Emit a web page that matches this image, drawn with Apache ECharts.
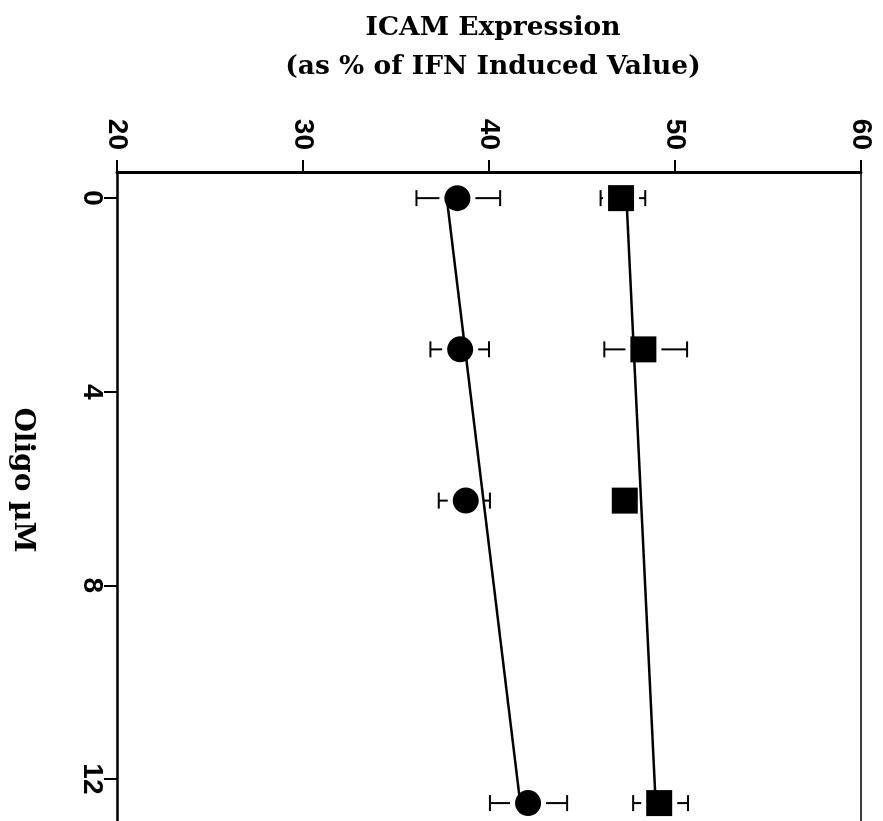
<!DOCTYPE html>
<html>
<head>
<meta charset="utf-8">
<script src="https://cdn.jsdelivr.net/npm/echarts@6/dist/echarts.min.js"></script>
<style>
html,body{margin:0;padding:0;background:#fff;}
#chart{width:883px;height:821px;}
</style>
</head>
<body>
<div id="chart"></div>
<script>
// ---- data ----
const oligo = [0, 3.125, 6.25, 12.5];
const circleVal  = [38.3, 38.45, 38.75, 42.1];
const circleLow  = [36.1, 36.85, 37.3, 40.05];
const circleHigh = [40.6, 40.0, 40.05, 44.2];
const squareVal  = [47.1, 48.3, 47.3, 49.15];
const squareLow  = [46.0, 46.2, 47.3, 47.75];
const squareHigh = [48.4, 50.65, 47.3, 50.7];
// fitted lines (end values)
const fitOligo  = [0, 12.5];
const fitCircle = [37.73, 41.68];
const fitSquare = [47.39, 48.96];
const xTicks = [20, 30, 40, 50, 60];
const yTicks = [0, 4, 8, 12];
const titleLines = ['ICAM Expression', '(as % of IFN Induced Value)'];
const yName = 'Oligo µM';

const chart = echarts.init(document.getElementById('chart'), null, {renderer: 'canvas'});

const MARK = 26;
function errRender(params, api) {
  const y = api.value(0), lo = api.value(1), hi = api.value(2), c = api.value(3);
  const pl = api.coord([lo, y]), ph = api.coord([hi, y]), pc = api.coord([c, y]);
  const edge = MARK / 2 + 5, cap = 8;
  const st = {stroke: '#000', lineWidth: 2};
  const ch = [];
  if (pl[0] < pc[0] - MARK / 2) {
    ch.push({type: 'line', shape: {x1: pl[0], y1: pl[1], x2: Math.max(pl[0], pc[0] - edge), y2: pl[1]}, style: st});
    ch.push({type: 'line', shape: {x1: pl[0], y1: pl[1] - cap, x2: pl[0], y2: pl[1] + cap}, style: st});
  }
  if (ph[0] > pc[0] + MARK / 2) {
    ch.push({type: 'line', shape: {x1: Math.min(ph[0], pc[0] + edge), y1: ph[1], x2: ph[0], y2: ph[1]}, style: st});
    ch.push({type: 'line', shape: {x1: ph[0], y1: ph[1] - cap, x2: ph[0], y2: ph[1] + cap}, style: st});
  }
  return {type: 'group', children: ch};
}

const labelFont = {fontFamily: 'Liberation Sans', fontWeight: 'bold', fontSize: 28, color: '#000'};
const Y_MIN = -0.54, Y_MAX = 12.87;

const option = {
  backgroundColor: '#fff',
  animation: false,
  graphic: [
    {type: 'text', x: 493, y: 28, style: {text: titleLines[0], font: 'bold 26.5px "DejaVu Serif"', fill: '#000', align: 'center', verticalAlign: 'middle'}},
    {type: 'text', x: 493, y: 67, style: {text: titleLines[1], font: 'bold 26.5px "DejaVu Serif"', fill: '#000', align: 'center', verticalAlign: 'middle'}},
    {type: 'text', x: 22, y: 480, rotation: -Math.PI / 2, style: {text: yName, font: 'bold 28px "DejaVu Serif"', fill: '#000', align: 'center', verticalAlign: 'middle'}}
  ],
  grid: {left: 117, right: 22, top: 172, bottom: 0, containLabel: false},
  xAxis: {
    type: 'value', position: 'top', min: xTicks[0], max: xTicks[xTicks.length - 1], interval: 10,
    axisLine: {show: true, onZero: false, lineStyle: {color: '#000', width: 3}},
    axisTick: {show: true, inside: false, length: 12, lineStyle: {color: '#000', width: 2}},
    axisLabel: Object.assign({rotate: 90, margin: 22}, labelFont),
    splitLine: {show: false}
  },
  yAxis: [{
    type: 'value', inverse: true, min: Y_MIN, max: Y_MAX, position: 'left',
    axisLine: {show: true, onZero: false, lineStyle: {color: '#000', width: 2.5}},
    axisTick: {show: true, length: 13, customValues: yTicks, lineStyle: {color: '#000', width: 2}},
    axisLabel: Object.assign({rotate: -90, margin: 11, customValues: yTicks}, labelFont),
    splitLine: {show: false}
  }, {
    type: 'value', inverse: true, min: Y_MIN, max: Y_MAX, position: 'right',
    axisLine: {show: true, onZero: false, lineStyle: {color: '#000', width: 1.5}},
    axisTick: {show: false}, axisLabel: {show: false}, splitLine: {show: false}
  }],
  series: [
    {type: 'line', data: fitOligo.map((o, i) => [fitCircle[i], o]), symbol: 'none', lineStyle: {color: '#000', width: 2.5}, z: 2},
    {type: 'line', data: fitOligo.map((o, i) => [fitSquare[i], o]), symbol: 'none', lineStyle: {color: '#000', width: 2.5}, z: 2},
    {type: 'custom', renderItem: errRender, encode: {x: [1, 2, 3], y: 0},
      data: oligo.map((o, i) => [o, circleLow[i], circleHigh[i], circleVal[i]]), z: 3},
    {type: 'custom', renderItem: errRender, encode: {x: [1, 2, 3], y: 0},
      data: oligo.map((o, i) => [o, squareLow[i], squareHigh[i], squareVal[i]]), z: 3},
    {type: 'scatter', symbol: 'circle', symbolSize: MARK, data: oligo.map((o, i) => [circleVal[i], o]),
      itemStyle: {color: '#000', opacity: 1}, z: 5},
    {type: 'scatter', symbol: 'rect', symbolSize: MARK, data: oligo.map((o, i) => [squareVal[i], o]),
      itemStyle: {color: '#000', opacity: 1}, z: 5}
  ]
};
chart.setOption(option);
</script>
</body>
</html>
